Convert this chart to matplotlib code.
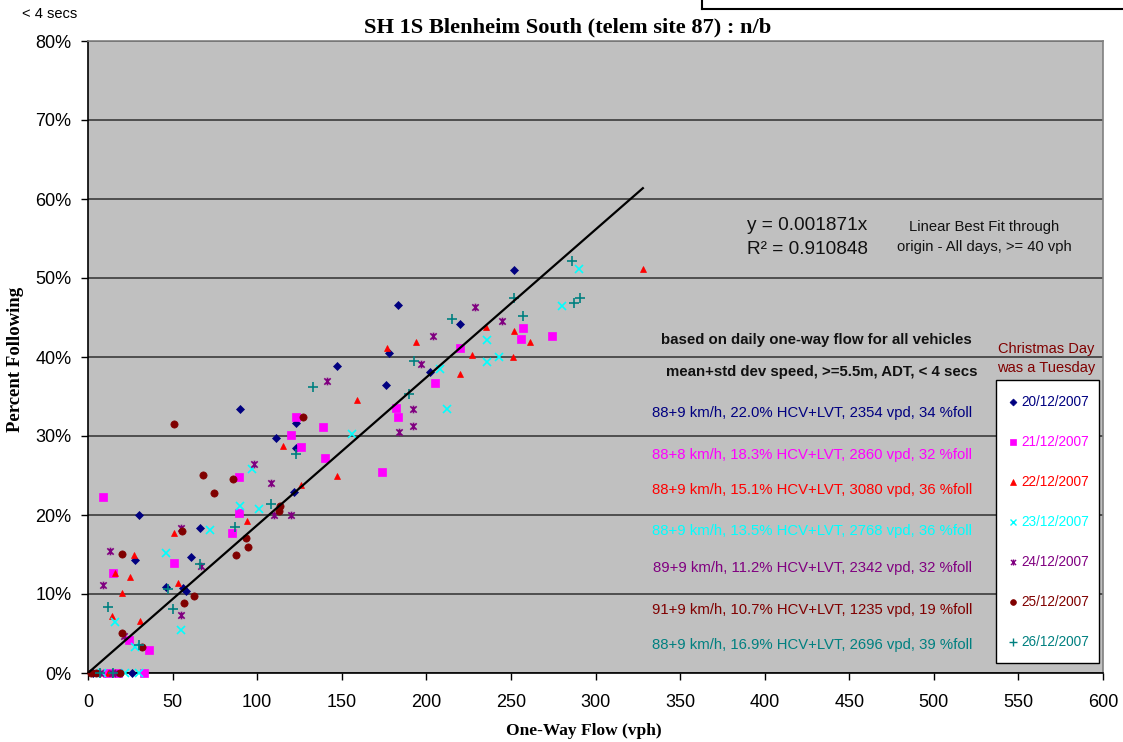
import matplotlib
matplotlib.use("Agg")
import matplotlib.pyplot as plt
import numpy as np
from matplotlib.path import Path
from matplotlib.patches import Rectangle
from matplotlib.ticker import FuncFormatter

# ---------------- data ----------------
dates = ["20/12/2007", "21/12/2007", "22/12/2007", "23/12/2007",
         "24/12/2007", "25/12/2007", "26/12/2007"]

flow_20 = [252, 183, 220, 178, 147, 202, 176, 90, 123, 111, 123, 122, 30, 66, 61, 28, 46, 56, 58, 26, 3, 10, 14]
pct_20 = [51.0, 46.6, 44.2, 40.5, 38.8, 38.1, 36.5, 33.4, 31.7, 29.8, 28.5, 22.9, 20.0, 18.3, 14.7, 14.3, 10.9, 10.8, 10.4, 0, 0, 0, 0]

flow_21 = [257, 256, 274, 220, 205, 182, 183, 123, 139, 120, 126, 140, 174, 89, 9, 89, 85, 51, 15, 36, 24, 33, 11, 18]
pct_21 = [43.7, 42.3, 42.7, 41.1, 36.7, 33.6, 32.4, 32.4, 31.1, 30.1, 28.6, 27.2, 25.4, 24.8, 22.3, 20.3, 17.7, 13.9, 12.7, 2.9, 4.2, 0, 0, 0]

flow_22 = [328, 235, 252, 194, 261, 176.5, 227, 251, 220, 159, 115, 147, 126, 94, 51, 27, 16, 25, 53, 20, 14, 31, 6, 12]
pct_22 = [51.2, 43.8, 43.3, 41.9, 41.9, 41.2, 40.2, 40.0, 37.8, 34.6, 28.7, 25.0, 23.8, 19.2, 17.7, 14.9, 12.6, 12.1, 11.4, 10.1, 7.2, 6.6, 0, 0]

flow_23 = [290, 280, 236, 243, 236, 208, 212, 156, 97, 90, 101, 72, 46, 16, 55, 28, 8, 22, 30]
pct_23 = [51.2, 46.5, 42.1, 40.0, 39.4, 38.5, 33.4, 30.2, 25.8, 21.1, 20.8, 18.1, 15.2, 6.4, 5.5, 3.3, 0, 0, 0]

flow_24 = [229, 245, 204, 197, 141, 192, 192, 184, 98, 108, 110, 120, 55, 67, 13, 9, 55, 21, 7, 14, 16]
pct_24 = [46.3, 44.5, 42.7, 39.1, 37.0, 33.4, 31.3, 30.5, 26.5, 24.1, 20.0, 20.0, 18.4, 13.5, 15.4, 11.2, 7.3, 4.7, 0, 0, 0]

flow_25 = [51, 127, 68, 86, 74.5, 113.5, 112.7, 55.4, 93.6, 94.8, 87.3, 19.9, 62.7, 56.6, 19.9, 31.7, 2, 4.5, 18.7]
pct_25 = [31.5, 32.4, 25.1, 24.6, 22.8, 21.2, 20.5, 18.0, 17.1, 15.9, 14.9, 15.1, 9.7, 8.9, 5.1, 3.3, 0, 0, 0]

flow_26 = [286, 287, 291, 252, 257, 215, 193, 190, 133, 123, 108, 87, 66, 47, 50, 12, 30, 7, 15]
pct_26 = [52.1, 46.8, 47.5, 47.5, 45.2, 44.8, 39.5, 35.3, 36.2, 27.7, 21.4, 18.5, 13.8, 10.6, 8.1, 8.4, 3.5, 0, 0]

fit_slope = 0.1871          # percent per vph  (y = 0.001871x)
fit_x = [0, 328]

summaries = [
    "88+9 km/h, 22.0% HCV+LVT, 2354 vpd, 34 %foll",
    "88+8 km/h, 18.3% HCV+LVT, 2860 vpd, 32 %foll",
    "88+9 km/h, 15.1% HCV+LVT, 3080 vpd, 36 %foll",
    "88+9 km/h, 13.5% HCV+LVT, 2768 vpd, 36 %foll",
    "89+9 km/h, 11.2% HCV+LVT, 2342 vpd, 32 %foll",
    "91+9 km/h, 10.7% HCV+LVT, 1235 vpd, 19 %foll",
    "88+9 km/h, 16.9% HCV+LVT, 2696 vpd, 39 %foll",
]

x_ticks = list(range(0, 601, 50))
y_ticks = list(range(0, 81, 10))

# ---------------- style ----------------
colors = ["#000080", "#FF00FF", "#FF0000", "#00FFFF", "#800080", "#800000", "#008080"]
star = Path([(-1, -1), (1, 1), (-1, 1), (1, -1), (0, -1.2), (0, 1.2)],
            [Path.MOVETO, Path.LINETO, Path.MOVETO, Path.LINETO, Path.MOVETO, Path.LINETO])
markers = ["D", "s", "^", "x", star, "o", "+"]
msizes = [4.4, 5.2, 4.8, 5.8, 5.5, 5.2, 6.5]

plt.rcParams['font.family'] = ['Liberation Sans', 'DejaVu Sans']
serif = ['Liberation Serif', 'DejaVu Serif']

fig = plt.figure(figsize=(11.23, 7.42), dpi=100)
ax = fig.add_axes([88/1123, 69/742, 1015/1123, 632/742])
ax.set_facecolor("#C0C0C0")

series = [(flow_20, pct_20), (flow_21, pct_21), (flow_22, pct_22), (flow_23, pct_23),
          (flow_24, pct_24), (flow_25, pct_25), (flow_26, pct_26)]
for (fx, fy), c, m, ms in zip(series, colors, markers, msizes):
    lw = 1.2 if m in ("x", "+") or isinstance(m, Path) else 0.5
    ax.plot(fx, fy, linestyle="none", marker=m, color=c, markersize=ms,
            markeredgewidth=lw, markerfacecolor=c, markeredgecolor=c, zorder=3, clip_on=False)

fit_y = [fit_slope * v for v in fit_x]
ax.plot(fit_x, fit_y, color="black", lw=1.6, zorder=4)

ax.set_xlim(0, 600)
ax.set_ylim(0, 80)
ax.set_xticks(x_ticks)
ax.set_yticks(y_ticks)
ax.yaxis.set_major_formatter(FuncFormatter(lambda v, p: f"{int(v)}%"))
ax.tick_params(axis="both", labelsize=13, length=5, width=1, color="black", direction="out")
ax.tick_params(axis="y", pad=7)
ax.tick_params(axis="x", pad=10)
ax.grid(axis="y", color="#303030", lw=1.1, zorder=1)
ax.set_axisbelow(True)
for s in ("top", "right"):
    ax.spines[s].set_color("#808080")
    ax.spines[s].set_linewidth(1.2)
for s in ("left", "bottom"):
    ax.spines[s].set_color("black")
    ax.spines[s].set_linewidth(1.2)

# titles / labels
fig.text(568/1123, 1 - 27/742, "SH 1S Blenheim South (telem site 87) : n/b",
         ha="center", va="center", fontsize=16.2, fontweight="bold", family=serif)
fig.text(16/1123, 1 - 359/742, "Percent Following", rotation=90,
         ha="center", va="center", fontsize=13.5, fontweight="bold", family=serif)
fig.text(584/1123, 1 - 731/742, "One-Way Flow (vph)",
         ha="center", va="center", fontsize=12.5, fontweight="bold", family=serif)
fig.text(50/1123, 1 - 14/742, "< 4 secs", ha="center", va="center", fontsize=10.5)

# partial box at the top right
fig.add_artist(plt.Line2D([702/1123, 702/1123], [1, 1 - 9/742], transform=fig.transFigure,
                          color="black", lw=1.5))
fig.add_artist(plt.Line2D([702/1123, 1], [1 - 9/742, 1 - 9/742], transform=fig.transFigure,
                          color="black", lw=1.5))

def axf(px, py):
    return (px - 88) / 1015, (673 - py) / 632

T = ax.transAxes
x0, y0 = axf(747, 225)
ax.text(x0, y0, "y = 0.001871x", transform=T, fontsize=13.7, va="center", ha="left", color="#111111")
x0, y0 = axf(747, 250)
ax.text(x0, y0, "R² = 0.910848", transform=T, fontsize=13.7, va="center", ha="left", color="#111111")
x0, y0 = axf(984, 227)
ax.text(x0, y0, "Linear Best Fit through", transform=T, fontsize=10.6, va="center", ha="center", color="#111111")
x0, y0 = axf(984, 247)
ax.text(x0, y0, "origin - All days, >= 40 vph", transform=T, fontsize=10.6, va="center", ha="center", color="#111111")
x0, y0 = axf(972, 340)
ax.text(x0, y0, "based on daily one-way flow for all vehicles", transform=T, fontsize=10.8,
        fontweight="bold", va="center", ha="right", color="#111111")
x0, y0 = axf(978, 372)
ax.text(x0, y0, "mean+std dev speed, >=5.5m, ADT, < 4 secs", transform=T, fontsize=10.8,
        fontweight="bold", va="center", ha="right", color="#111111")

summary_py = [413, 455, 490, 531, 568, 610, 645]
for s, c, py in zip(summaries, colors, summary_py):
    x0, y0 = axf(972, py)
    ax.text(x0, y0, s, transform=T, fontsize=10.7, va="center", ha="right", color=c)

x0, y0 = axf(1046, 349)
ax.text(x0, y0, "Christmas Day", transform=T, fontsize=10.5, va="center", ha="center", color="#800000")
x0, y0 = axf(1046, 368)
ax.text(x0, y0, "was a Tuesday", transform=T, fontsize=10.5, va="center", ha="center", color="#800000")

# legend box
bx0, by0 = axf(996, 662.5)
bx1, by1 = axf(1098.5, 380.5)
ax.add_patch(Rectangle((bx0, by0), bx1 - bx0, by1 - by0, transform=T, facecolor="white",
                       edgecolor="black", lw=1.0, zorder=5, clip_on=False))
legend_py = [401.7, 441.7, 481.7, 521.7, 561.7, 601.7, 641.7]
for d, c, m, ms, py in zip(dates, colors, markers, msizes, legend_py):
    mx, my = axf(1012.5, py)
    lw = 1.0 if m in ("x", "+") or isinstance(m, Path) else 0.5
    ax.plot([mx], [my], transform=T, linestyle="none", marker=m, color=c,
            markersize=ms * 0.8, markeredgewidth=lw, zorder=6, clip_on=False)
    tx, ty = axf(1021.5, py)
    ax.text(tx, ty, d, transform=T, fontsize=9.8, va="center", ha="left", color=c, zorder=6)

fig.savefig("out.png", dpi=100)
